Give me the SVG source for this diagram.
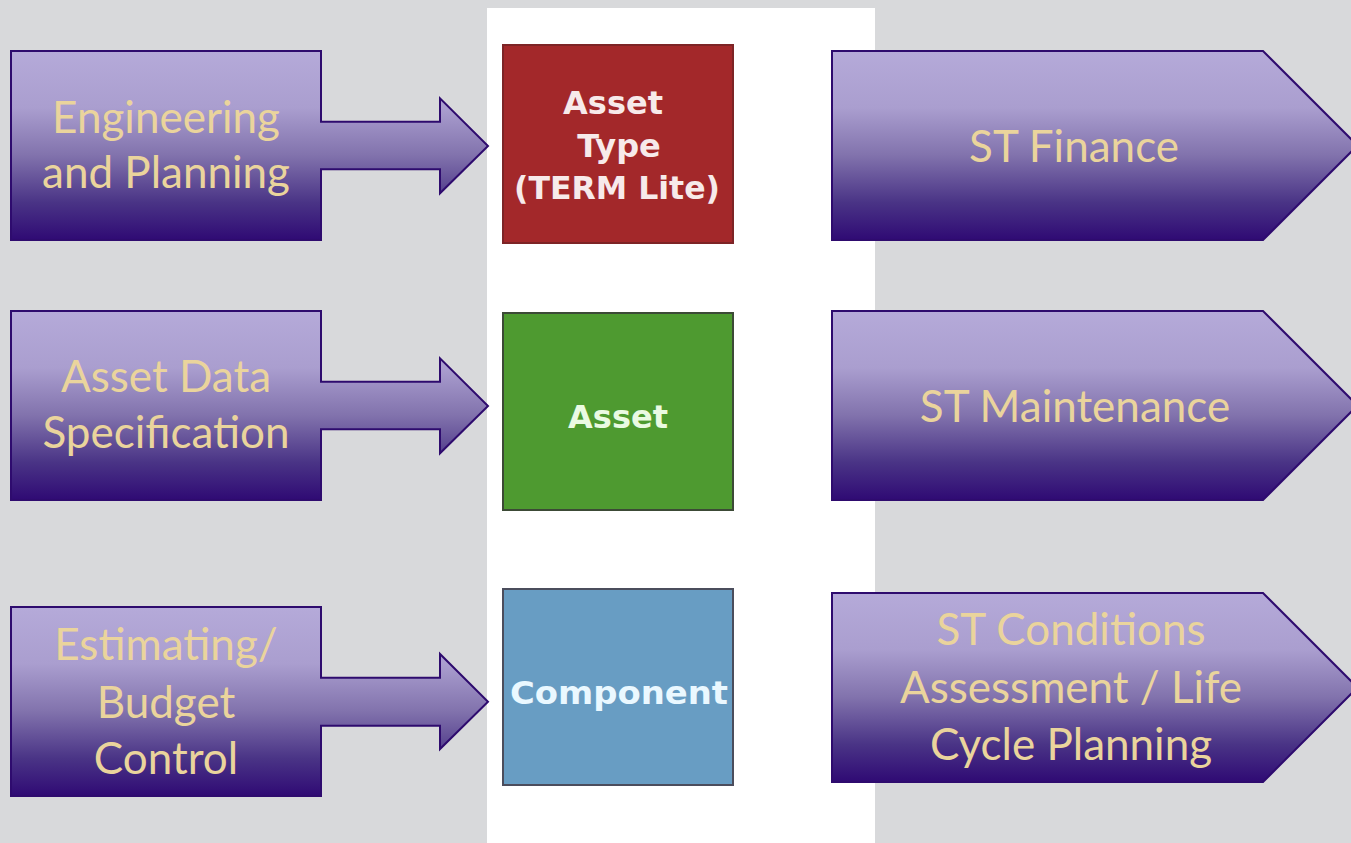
<svg xmlns="http://www.w3.org/2000/svg" width="1351" height="843" viewBox="0 0 1351 843">
<defs>
<linearGradient id="purp" x1="0" y1="0" x2="0" y2="1">
<stop offset="0" stop-color="#b5aad9"/>
<stop offset="0.3" stop-color="#aa9ecf"/>
<stop offset="0.55" stop-color="#8273ad"/>
<stop offset="0.8" stop-color="#4a3486"/>
<stop offset="1" stop-color="#2f0a74"/>
</linearGradient>
<style>
.shape{fill:url(#purp);stroke:#2e0b6e;stroke-width:2;stroke-linejoin:miter}
.lbl{font-family:Lato,"Open Sans","Liberation Sans",sans-serif;font-size:44px;fill:#ead49c;text-anchor:middle}
.box{stroke-width:2}
.btxt{font-family:"DejaVu Sans","Liberation Sans",sans-serif;font-weight:bold;font-size:32px;text-anchor:middle}
</style>
</defs>
<rect x="0" y="0" width="1351" height="843" fill="#d8d9db"/>
<rect x="487" y="8" width="388" height="835" fill="#ffffff"/>
<g id="connectors"></g>
<g id="node-engineering">
<path class="shape" d="M11 51H321V121.7H440V98.3L488 146L440 193.3V169.3H321V240H11Z"/>
<text class="lbl" x="166" y="133">Engineering</text>
<text class="lbl" x="166" y="188">and Planning</text>
</g>
<g id="node-asset-data">
<path class="shape" d="M11 311H321V381.7H440V358.3L488 406L440 453.3V429.3H321V500H11Z"/>
<text class="lbl" x="166" y="392">Asset Data</text>
<text class="lbl" x="166" y="448">Specification</text>
</g>
<g id="node-estimating">
<path class="shape" d="M11 607H321V677.7H440V654L488 701.7L440 749V725.7H321V796H11Z"/>
<text class="lbl" x="166" y="660">Estimating/</text>
<text class="lbl" x="166" y="718">Budget</text>
<text class="lbl" x="166" y="774">Control</text>
</g>
<g id="node-asset-type">
<rect class="box" x="503" y="45" width="230" height="198" fill="#a3282a" stroke="#7d2426"/>
<text class="btxt" x="613" y="114" fill="#f7eaea">Asset</text>
<text class="btxt" x="619" y="157" fill="#f7eaea">Type</text>
<text class="btxt" x="617" y="199" fill="#f7eaea" textLength="206" lengthAdjust="spacingAndGlyphs">(TERM Lite)</text>
</g>
<g id="node-asset">
<rect class="box" x="503" y="313" width="230" height="197" fill="#4e9a30" stroke="#3c4a36"/>
<text class="btxt" x="618" y="428" fill="#eafae2">Asset</text>
</g>
<g id="node-component">
<rect class="box" x="503" y="589" width="230" height="196" fill="#689dc3" stroke="#4b4d5c"/>
<text class="btxt" x="619" y="704" fill="#eaf8ff" font-size="35" textLength="218" lengthAdjust="spacingAndGlyphs">Component</text>
</g>
<g id="node-finance">
<path class="shape" d="M832 51H1263L1357.5 145.5L1263 240H832Z"/>
<text class="lbl" x="1074" y="162">ST Finance</text>
</g>
<g id="node-maintenance">
<path class="shape" d="M832 311H1263L1357.5 405.5L1263 500H832Z"/>
<text class="lbl" x="1075" y="422">ST Maintenance</text>
</g>
<g id="node-conditions">
<path class="shape" d="M832 593H1263L1357.5 687.5L1263 782H832Z"/>
<text class="lbl" x="1071" y="645">ST Conditions</text>
<text class="lbl" x="1071" y="703">Assessment / Life</text>
<text class="lbl" x="1071" y="760">Cycle Planning</text>
</g>
</svg>
